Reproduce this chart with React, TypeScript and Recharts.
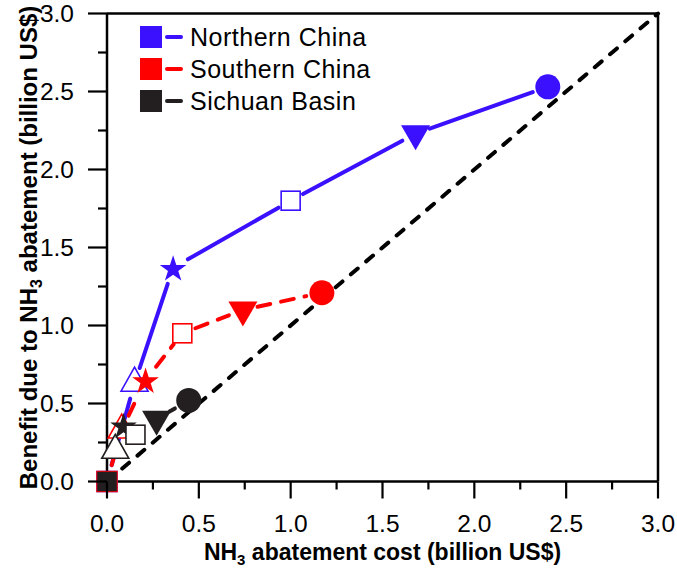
import React from 'react';
import { ComposedChart, Scatter, XAxis, YAxis, ReferenceLine, Legend, Label } from 'recharts';

// ---- data ----
const seriesNames = ['Northern China', 'Southern China', 'Sichuan Basin'];
const northX = [0, 0.15, 0.36, 1.0, 1.68, 2.4];
const northY = [0, 0.63, 1.37, 1.8, 2.23, 2.53];
const southX = [0, 0.08, 0.21, 0.41, 0.74, 1.17];
const southY = [0, 0.33, 0.65, 0.95, 1.1, 1.21];
const sichX = [0, 0.045, 0.09, 0.155, 0.27, 0.445];
const sichY = [0, 0.2, 0.36, 0.3, 0.4, 0.52];
const tickValues = [0, 0.25, 0.5, 0.75, 1, 1.25, 1.5, 1.75, 2, 2.25, 2.5, 2.75, 3];
const majorTickLabels = ['0.0', '0.5', '1.0', '1.5', '2.0', '2.5', '3.0'];
const oneToOne = [{ x: 0, y: 0 }, { x: 3, y: 3 }];

// ---- styles ----
const COLORS = ['#3a10ff', '#ff0000', '#231f20'];
const DASHES = [undefined, '13 11', '13 11'];
const MARKERS = ['square', 'triUpOpen', 'star', 'squareOpen', 'triDown', 'circle'];
const GAPS = [17, 16, 17, 14, 15, 16];
const FONT = '"Liberation Sans", Arial, sans-serif';

const W = 677;
const H = 576;
const PLOT_LEFT = 107;
const PLOT_RIGHT = 658;
const PLOT_TOP = 13.5;
const PLOT_BOTTOM = 481.5;

const buildData = (xs: number[], ys: number[]) => xs.map((x, i) => ({ x, y: ys[i], i }));
const seriesData = [buildData(northX, northY), buildData(southX, southY), buildData(sichX, sichY)];

function drawMarker(kind: string, cx: number, cy: number, color: string, s: number) {
  switch (kind) {
    case 'square': {
      const a = s === 2 ? 19.5 : 21.5;
      return <rect x={cx - a / 2} y={cy - a / 2} width={a} height={a} fill={color} />;
    }
    case 'triUpOpen': {
      const w = 27, h = 24;
      const pts = `${cx},${cy - (2 * h) / 3} ${cx - w / 2},${cy + h / 3} ${cx + w / 2},${cy + h / 3}`;
      return <polygon points={pts} fill="#fff" stroke={color} strokeWidth={1.6} />;
    }
    case 'star': {
      const R = 14, r = 5.4;
      const pts: string[] = [];
      for (let k = 0; k < 10; k++) {
        const ang = ((-90 + k * 36) * Math.PI) / 180;
        const rad = k % 2 === 0 ? R : r;
        pts.push(`${cx + rad * Math.cos(ang)},${cy + 1.5 + rad * Math.sin(ang)}`);
      }
      return <polygon points={pts.join(' ')} fill={color} />;
    }
    case 'squareOpen': {
      const a = 19;
      return <rect x={cx - a / 2} y={cy - a / 2} width={a} height={a} fill="#fff" stroke={color} strokeWidth={1.6} />;
    }
    case 'triDown': {
      const w = 29, h = 25;
      const pts = `${cx - w / 2},${cy - h / 3} ${cx + w / 2},${cy - h / 3} ${cx},${cy + (2 * h) / 3}`;
      return <polygon points={pts} fill={color} />;
    }
    default:
      return <circle cx={cx} cy={cy} r={12.5} fill={color} />;
  }
}

const makeShape = (s: number) => (props: any) => {
  const cx = props.cx ?? props.x + (props.width || 0) / 2;
  const cy = props.cy ?? props.y + (props.height || 0) / 2;
  const idx = props.payload?.i ?? 0;
  return <g>{drawMarker(MARKERS[idx], cx, cy, COLORS[s], s)}</g>;
};

const makeLine = (s: number) => (props: any) => {
  const pts = props.points || [];
  const segs: React.ReactNode[] = [];
  for (let k = 0; k < pts.length - 1; k++) {
    const a = pts[k], b = pts[k + 1];
    const dx = b.x - a.x, dy = b.y - a.y;
    const len = Math.sqrt(dx * dx + dy * dy);
    const g1 = GAPS[k], g2 = GAPS[k + 1];
    if (len <= g1 + g2 + 2) continue;
    const ux = dx / len, uy = dy / len;
    segs.push(
      <line
        key={k}
        x1={a.x + ux * g1}
        y1={a.y + uy * g1}
        x2={b.x - ux * g2}
        y2={b.y - uy * g2}
        stroke={COLORS[s]}
        strokeWidth={4}
        strokeDasharray={DASHES[s]}
        strokeLinecap="round"
      />
    );
  }
  return <g>{segs}</g>;
};

const isMajor = (v: number) => Math.abs(v * 2 - Math.round(v * 2)) < 1e-6;

const XTick = (props: any) => {
  const { x, y, payload } = props;
  const v = payload.value;
  const major = isMajor(v);
  return (
    <g>
      <line x1={x} y1={y} x2={x} y2={y + (major ? 17 : 8)} stroke="#000" strokeWidth={2.2} />
      {major && (
        <text x={x} y={y + 50.5} textAnchor="middle" fontFamily={FONT} fontSize={24.5} fill="#000">
          {majorTickLabels[Math.round(v * 2)]}
        </text>
      )}
    </g>
  );
};

const YTick = (props: any) => {
  const { x, y, payload } = props;
  const v = payload.value;
  const major = isMajor(v);
  return (
    <g>
      <line x1={x} y1={y} x2={x - (major ? 19 : 9)} y2={y} stroke="#000" strokeWidth={2.2} />
      {major && (
        <text x={x - 33} y={y + 8.5} textAnchor="end" fontFamily={FONT} fontSize={24.5} fill="#000">
          {majorTickLabels[Math.round(v * 2)]}
        </text>
      )}
    </g>
  );
};

const XTitle = () => (
  <text x={(PLOT_LEFT + PLOT_RIGHT) / 2} y={560} textAnchor="middle" fontFamily={FONT} fontWeight="bold" fontSize={23} fill="#000">
    <tspan>NH</tspan>
    <tspan fontSize={15} dy={5}>3</tspan>
    <tspan dy={-5}> abatement cost (billion US$)</tspan>
  </text>
);

const YTitle = () => {
  const cx = 36.5;
  const cy = (PLOT_TOP + PLOT_BOTTOM) / 2;
  return (
    <text x={cx} y={cy} transform={`rotate(-90, ${cx}, ${cy})`} textAnchor="middle" fontFamily={FONT} fontWeight="bold" fontSize={24} fill="#000">
      <tspan>Benefit due to NH</tspan>
      <tspan fontSize={16} dy={5}>3</tspan>
      <tspan dy={-5}> abatement (billion US$)</tspan>
    </text>
  );
};

const LegendContent = () => (
  <div style={{ fontFamily: FONT, fontSize: 25, letterSpacing: 0.5, color: '#000' }}>
    {seriesNames.map((name, s) => (
      <div key={name} style={{ display: 'flex', alignItems: 'center', height: 32, whiteSpace: 'nowrap' }}>
        <span style={{ display: 'inline-block', width: 22, height: 22, background: COLORS[s] }} />
        <span style={{ display: 'inline-block', width: 18, height: 4, borderRadius: 2, background: COLORS[s], marginLeft: 3 }} />
        <span style={{ marginLeft: 7, lineHeight: '32px' }}>{name}</span>
      </div>
    ))}
  </div>
);

export default function App() {
  return (
    <div style={{ position: 'absolute', left: 0, top: 0, width: W, height: H, background: '#fff' }}>
      <ComposedChart
        width={W}
        height={H}
        margin={{ top: PLOT_TOP, right: W - PLOT_RIGHT, left: PLOT_LEFT - 60, bottom: 12.5 }}
      >
        <XAxis
          type="number"
          dataKey="x"
          domain={[0, 3]}
          ticks={tickValues}
          interval={0}
          tick={<XTick />}
          tickLine={false}
          tickSize={0}
          tickMargin={0}
          height={82}
          axisLine={{ stroke: '#000', strokeWidth: 2.5 }}
        >
          <Label content={<XTitle />} />
        </XAxis>
        <YAxis
          type="number"
          dataKey="y"
          domain={[0, 3]}
          ticks={tickValues}
          interval={0}
          tick={<YTick />}
          tickLine={false}
          tickSize={0}
          tickMargin={0}
          width={60}
          axisLine={{ stroke: '#000', strokeWidth: 2.5 }}
        >
          <Label content={<YTitle />} />
        </YAxis>
        <ReferenceLine y={3} stroke="#000" strokeWidth={2.5} />
        <ReferenceLine x={3} stroke="#000" strokeWidth={2.5} />
        <ReferenceLine
          segment={oneToOne}
          stroke="#000"
          strokeWidth={4}
          strokeDasharray="9 11"
          strokeLinecap="round"
        />
        {seriesData.map((data, s) => (
          <Scatter
            key={seriesNames[s]}
            name={seriesNames[s]}
            data={data}
            fill={COLORS[s]}
            line={makeLine(s)}
            lineType="joint"
            shape={makeShape(s)}
            isAnimationActive={false}
          />
        ))}
        <Legend
          layout="vertical"
          align="center"
          verticalAlign="middle"
          content={<LegendContent />}
          wrapperStyle={{ left: 140, top: 21, right: 'auto', bottom: 'auto', width: 'auto', height: 'auto' }}
        />
      </ComposedChart>
    </div>
  );
}
